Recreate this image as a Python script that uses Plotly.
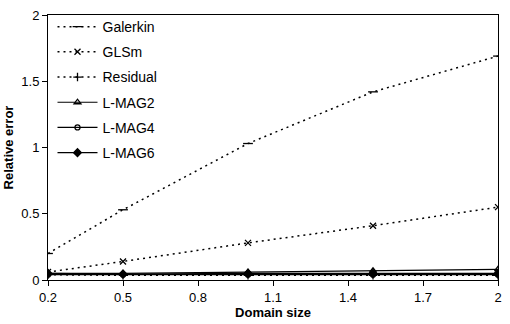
import plotly.graph_objects as go

x = [0.2, 0.5, 1.0, 1.5, 2.0]
galerkin = [0.20, 0.53, 1.03, 1.42, 1.69]
glsm = [0.06, 0.14, 0.28, 0.41, 0.55]
residual = [0.04, 0.035, 0.035, 0.035, 0.035]
lmag2 = [0.05, 0.05, 0.06, 0.07, 0.08]
lmag4 = [0.04, 0.04, 0.04, 0.04, 0.04]
lmag6 = [0.05, 0.045, 0.05, 0.05, 0.05]

xticks = [0.2, 0.5, 0.8, 1.1, 1.4, 1.7, 2]
yticks = [0, 0.5, 1, 1.5, 2]

series = [
    ("Galerkin", galerkin, "dot", "line-ew", 7),
    ("GLSm", glsm, "dot", "x-thin", 6),
    ("Residual", residual, "dot", "cross-thin", 6),
    ("L-MAG2", lmag2, "solid", "triangle-up-open", 6),
    ("L-MAG4", lmag4, "solid", "circle-open", 5),
    ("L-MAG6", lmag6, "solid", "diamond", 6),
]

fig = go.Figure()
for name, ys, dash, sym, size in series:
    fig.add_trace(go.Scatter(
        x=x, y=ys, name=name, mode="lines+markers", legendgroup=name,
        line=dict(color="black", width=1.2 if dash == "solid" else 1.5,
                  dash="2px,4px" if dash == "dot" else "solid"),
        marker=dict(symbol=sym, size=size, color="black",
                    line=dict(color="black", width=1.3)),
    ))

fig.update_layout(
    width=510, height=324,
    margin=dict(l=40, r=8, t=8, b=44),
    paper_bgcolor="white", plot_bgcolor="white",
    font=dict(family="Liberation Sans, Arial", size=13, color="black"),
    showlegend=True,
    legend=dict(x=0.01, y=1.015, xanchor="left", yanchor="top",
                bgcolor="rgba(0,0,0,0)", font=dict(size=14),
                tracegroupgap=4, itemwidth=40),
    xaxis=dict(range=[0.2, 2.0], tickvals=xticks, ticktext=[str(v) for v in xticks],
               showgrid=False, zeroline=False, showline=True, mirror=True,
               linecolor="black", linewidth=1, ticks="outside", ticklen=5,
               tickcolor="black",
               title=dict(text="<b>Domain size</b>", font=dict(size=13), standoff=2)),
    yaxis=dict(range=[0, 2], tickvals=yticks, ticktext=["0", "0.5", "1", "1.5", "2"],
               showgrid=False, zeroline=False, showline=True, mirror=True,
               linecolor="black", linewidth=1, ticks="outside", ticklen=5,
               tickcolor="black",
               title=dict(text="<b>Relative error</b>", font=dict(size=13), standoff=4)),
)

fig.write_html("out.html")
